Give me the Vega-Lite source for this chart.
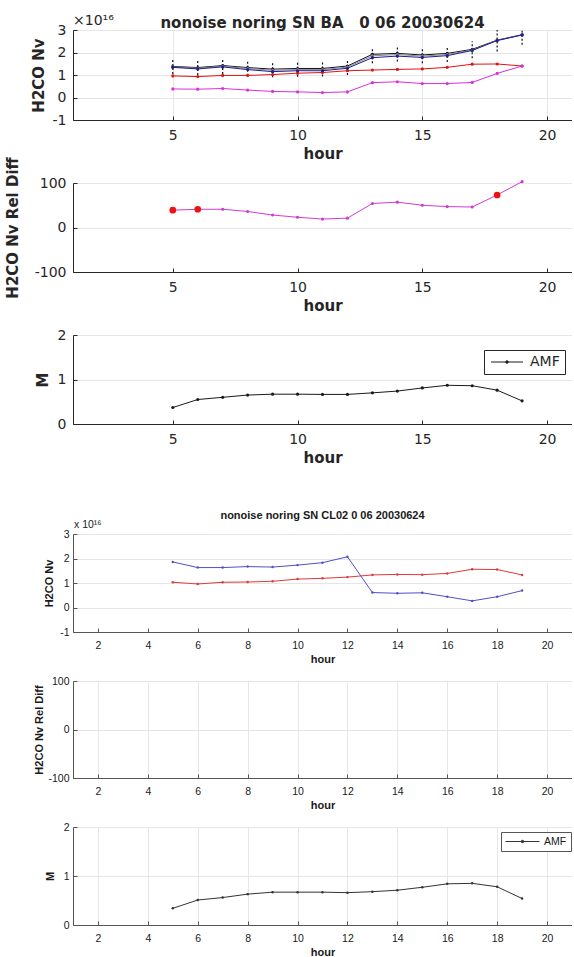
{
"$schema": "https://vega.github.io/schema/vega-lite/v6.json",
"usermeta": {"embedOptions": {"actions": false}},
"background": "white",
"padding": {"left": 5, "top": 14, "right": 0, "bottom": 0},
"bounds": "flush",
"spacing": 49,
"resolve": {"scale": {"color": "independent", "strokeWidth": "independent"}, "legend": {"color": "independent"}},
"config": {"view": {"stroke": null}, "axis": {"domainColor": "#262626", "labelColor": "#262626", "titleColor": "#262626", "gridColor": "#e6e6e6", "ticks": true, "tickSize": -4, "tickColor": "#262626"}},
"datasets": {
"p1": [
{"hour":5,"series":"upper","v":1.38},{"hour":6,"series":"upper","v":1.33},{"hour":7,"series":"upper","v":1.42},{"hour":8,"series":"upper","v":1.33},{"hour":9,"series":"upper","v":1.26},{"hour":10,"series":"upper","v":1.29},{"hour":11,"series":"upper","v":1.29},{"hour":12,"series":"upper","v":1.40},{"hour":13,"series":"upper","v":1.92},{"hour":14,"series":"upper","v":1.96},{"hour":15,"series":"upper","v":1.89},{"hour":16,"series":"upper","v":1.96},{"hour":17,"series":"upper","v":2.14},{"hour":18,"series":"upper","v":2.55},{"hour":19,"series":"upper","v":2.79},
{"hour":5,"series":"mid","v":1.36},{"hour":6,"series":"mid","v":1.30},{"hour":7,"series":"mid","v":1.39},{"hour":8,"series":"mid","v":1.29},{"hour":9,"series":"mid","v":1.21},{"hour":10,"series":"mid","v":1.24},{"hour":11,"series":"mid","v":1.24},{"hour":12,"series":"mid","v":1.35},{"hour":13,"series":"mid","v":1.85},{"hour":14,"series":"mid","v":1.91},{"hour":15,"series":"mid","v":1.84},{"hour":16,"series":"mid","v":1.91},{"hour":17,"series":"mid","v":2.11},{"hour":18,"series":"mid","v":2.54},{"hour":19,"series":"mid","v":2.78},
{"hour":5,"series":"reference","v":0.96},{"hour":6,"series":"reference","v":0.93},{"hour":7,"series":"reference","v":0.98},{"hour":8,"series":"reference","v":0.98},{"hour":9,"series":"reference","v":1.02},{"hour":10,"series":"reference","v":1.08},{"hour":11,"series":"reference","v":1.11},{"hour":12,"series":"reference","v":1.19},{"hour":13,"series":"reference","v":1.22},{"hour":14,"series":"reference","v":1.25},{"hour":15,"series":"reference","v":1.27},{"hour":16,"series":"reference","v":1.34},{"hour":17,"series":"reference","v":1.48},{"hour":18,"series":"reference","v":1.49},{"hour":19,"series":"reference","v":1.40},
{"hour":5,"series":"difference","v":0.38},{"hour":6,"series":"difference","v":0.37},{"hour":7,"series":"difference","v":0.40},{"hour":8,"series":"difference","v":0.33},{"hour":9,"series":"difference","v":0.27},{"hour":10,"series":"difference","v":0.25},{"hour":11,"series":"difference","v":0.22},{"hour":12,"series":"difference","v":0.25},{"hour":13,"series":"difference","v":0.66},{"hour":14,"series":"difference","v":0.70},{"hour":15,"series":"difference","v":0.62},{"hour":16,"series":"difference","v":0.62},{"hour":17,"series":"difference","v":0.67},{"hour":18,"series":"difference","v":1.07},{"hour":19,"series":"difference","v":1.40},
{"hour":5,"series":"retrieved","v":1.34},{"hour":6,"series":"retrieved","v":1.27},{"hour":7,"series":"retrieved","v":1.36},{"hour":8,"series":"retrieved","v":1.24},{"hour":9,"series":"retrieved","v":1.15},{"hour":10,"series":"retrieved","v":1.19},{"hour":11,"series":"retrieved","v":1.19},{"hour":12,"series":"retrieved","v":1.30},{"hour":13,"series":"retrieved","v":1.77},{"hour":14,"series":"retrieved","v":1.84},{"hour":15,"series":"retrieved","v":1.78},{"hour":16,"series":"retrieved","v":1.86},{"hour":17,"series":"retrieved","v":2.09},{"hour":18,"series":"retrieved","v":2.53},{"hour":19,"series":"retrieved","v":2.78}
],
"p1err": [
{"hour":5,"v":1.05,"hi":1.72},{"hour":6,"v":1.00,"hi":1.65},{"hour":7,"v":1.05,"hi":1.72},{"hour":8,"v":0.97,"hi":1.63},{"hour":9,"v":0.90,"hi":1.55},{"hour":10,"v":0.92,"hi":1.58},{"hour":11,"v":0.93,"hi":1.58},{"hour":12,"v":1.00,"hi":1.68},{"hour":13,"v":1.52,"hi":2.22},{"hour":14,"v":1.60,"hi":2.28},{"hour":15,"v":1.52,"hi":2.20},{"hour":16,"v":1.58,"hi":2.25},{"hour":17,"v":1.75,"hi":2.50},{"hour":18,"v":2.05,"hi":3.00},{"hour":19,"v":2.35,"hi":3.00}
],
"p2": [
{"hour":5,"v":39,"flag":true},{"hour":6,"v":41,"flag":true},{"hour":7,"v":41,"flag":false},{"hour":8,"v":36,"flag":false},{"hour":9,"v":28,"flag":false},{"hour":10,"v":23,"flag":false},{"hour":11,"v":19,"flag":false},{"hour":12,"v":21,"flag":false},{"hour":13,"v":54,"flag":false},{"hour":14,"v":57,"flag":false},{"hour":15,"v":50,"flag":false},{"hour":16,"v":47,"flag":false},{"hour":17,"v":46,"flag":false},{"hour":18,"v":73,"flag":true},{"hour":19,"v":103,"flag":false}
],
"p3": [
{"hour":5,"series":"AMF","v":0.37},{"hour":6,"series":"AMF","v":0.55},{"hour":7,"series":"AMF","v":0.60},{"hour":8,"series":"AMF","v":0.65},{"hour":9,"series":"AMF","v":0.67},{"hour":10,"series":"AMF","v":0.67},{"hour":11,"series":"AMF","v":0.665},{"hour":12,"series":"AMF","v":0.665},{"hour":13,"series":"AMF","v":0.70},{"hour":14,"series":"AMF","v":0.74},{"hour":15,"series":"AMF","v":0.81},{"hour":16,"series":"AMF","v":0.87},{"hour":17,"series":"AMF","v":0.86},{"hour":18,"series":"AMF","v":0.76},{"hour":19,"series":"AMF","v":0.52}
],
"p4": [
{"hour":5,"series":"retrieved","v":1.86},{"hour":6,"series":"retrieved","v":1.63},{"hour":7,"series":"retrieved","v":1.63},{"hour":8,"series":"retrieved","v":1.67},{"hour":9,"series":"retrieved","v":1.65},{"hour":10,"series":"retrieved","v":1.73},{"hour":11,"series":"retrieved","v":1.83},{"hour":12,"series":"retrieved","v":2.07},{"hour":13,"series":"retrieved","v":0.61},{"hour":14,"series":"retrieved","v":0.58},{"hour":15,"series":"retrieved","v":0.60},{"hour":16,"series":"retrieved","v":0.44},{"hour":17,"series":"retrieved","v":0.27},{"hour":18,"series":"retrieved","v":0.44},{"hour":19,"series":"retrieved","v":0.69},
{"hour":5,"series":"reference","v":1.03},{"hour":6,"series":"reference","v":0.96},{"hour":7,"series":"reference","v":1.03},{"hour":8,"series":"reference","v":1.04},{"hour":9,"series":"reference","v":1.07},{"hour":10,"series":"reference","v":1.16},{"hour":11,"series":"reference","v":1.19},{"hour":12,"series":"reference","v":1.24},{"hour":13,"series":"reference","v":1.33},{"hour":14,"series":"reference","v":1.35},{"hour":15,"series":"reference","v":1.34},{"hour":16,"series":"reference","v":1.39},{"hour":17,"series":"reference","v":1.56},{"hour":18,"series":"reference","v":1.55},{"hour":19,"series":"reference","v":1.33}
],
"p5": [],
"p6": [
{"hour":5,"series":"AMF","v":0.34},{"hour":6,"series":"AMF","v":0.51},{"hour":7,"series":"AMF","v":0.56},{"hour":8,"series":"AMF","v":0.63},{"hour":9,"series":"AMF","v":0.67},{"hour":10,"series":"AMF","v":0.67},{"hour":11,"series":"AMF","v":0.67},{"hour":12,"series":"AMF","v":0.66},{"hour":13,"series":"AMF","v":0.68},{"hour":14,"series":"AMF","v":0.71},{"hour":15,"series":"AMF","v":0.77},{"hour":16,"series":"AMF","v":0.84},{"hour":17,"series":"AMF","v":0.85},{"hour":18,"series":"AMF","v":0.78},{"hour":19,"series":"AMF","v":0.54}
],
"gridTop": [{"hour":5},{"hour":10},{"hour":15},{"hour":20}],
"gridBottom": [{"hour":2},{"hour":4},{"hour":6},{"hour":8},{"hour":10},{"hour":12},{"hour":14},{"hour":16},{"hour":18},{"hour":20}]
},
"vconcat": [
{
"width": 499, "height": 90,
"title": {"text": "nonoise noring SN BA\u00a0\u00a0\u00a00 06 20030624", "font": "DejaVu Sans", "fontSize": 15, "fontWeight": "bold", "color": "#262626", "anchor": "middle", "baseline": "alphabetic", "offset": -29, "frame": "group"},
"encoding": {"x": {"field": "hour", "type": "quantitative", "scale": {"domain": [1, 21], "nice": false, "zero": false},
   "axis": {"values": [5, 10, 15, 20], "title": "hour", "labelFont": "DejaVu Sans", "labelFontSize": 14, "titleFont": "DejaVu Sans", "titleFontSize": 15, "titleFontWeight": "bold", "labelPadding": 12, "titlePadding": 4}},
  "y": {"field": "v", "type": "quantitative", "scale": {"domain": [-1, 3], "nice": false, "zero": false},
   "axis": {"values": [-1, 0, 1, 2, 3], "title": "H2CO Nv", "labelExpr": "''+datum.value", "labelFont": "DejaVu Sans", "labelFontSize": 14, "titleFont": "DejaVu Sans", "titleFontSize": 15, "titleFontWeight": "bold", "labelPadding": 11, "minExtent": 27, "maxExtent": 27, "titlePadding": 0}}},
"layer": [
{"data": {"name": "p1err"}, "mark": {"type": "rule", "strokeDash": [2, 2], "color": "#111111", "strokeWidth": 1.2},
 "encoding": {"y2": {"field": "hi"}}},
{"data": {"name": "p1"}, "mark": {"type": "line", "point": {"filled": true, "size": 10}},
 "encoding": {
  "color": {"field": "series", "type": "nominal", "scale": {"domain": ["upper", "mid", "reference", "difference", "retrieved"], "range": ["#111111", "#8a8a8a", "#e01414", "#dd2edd", "#1c1c96"]}, "legend": null},
  "strokeWidth": {"field": "series", "type": "nominal", "scale": {"domain": ["upper", "mid", "reference", "difference", "retrieved"], "range": [1, 1, 1, 1, 2]}, "legend": null}}},
{"data": {"values": [{"hour": 1, "v": 3}]}, "mark": {"type": "text", "text": "×10¹⁶", "align": "left", "baseline": "alphabetic", "dy": -5, "font": "DejaVu Sans", "fontSize": 14, "color": "#262626"}}
]
},
{
"width": 499, "height": 103,
"data": {"name": "p2"},
"encoding": {"x": {"field": "hour", "type": "quantitative", "scale": {"domain": [1, 21], "nice": false, "zero": false},
   "axis": {"values": [5, 10, 15, 20], "grid": false, "title": "hour", "labelFont": "DejaVu Sans", "labelFontSize": 14, "titleFont": "DejaVu Sans", "titleFontSize": 15, "titleFontWeight": "bold", "labelPadding": 12, "titlePadding": 4}},
  "y": {"field": "v", "type": "quantitative", "scale": {"domain": [-100, 100], "range": [103, 14], "nice": false, "zero": false},
   "axis": {"values": [-100, 0, 100], "title": "H2CO Nv Rel Diff", "labelExpr": "''+datum.value", "labelFont": "DejaVu Sans", "labelFontSize": 14, "titleFont": "DejaVu Sans", "titleFontSize": 15, "titleFontWeight": "bold", "labelPadding": 11, "minExtent": 53, "maxExtent": 53, "titlePadding": 0}}},
"layer": [
{"data": {"name": "gridTop"}, "mark": {"type": "rule", "color": "#e6e6e6", "strokeWidth": 1}, "encoding": {"y": {"datum": -100}, "y2": {"datum": 100}}},
{"mark": {"type": "line", "color": "#d23ad2", "strokeWidth": 1, "point": {"filled": true, "size": 10, "color": "#d23ad2"}}},
{"transform": [{"filter": "datum.flag"}], "mark": {"type": "point", "filled": true, "size": 45, "color": "#ee1111", "opacity": 1}}
]
},
{
"width": 499, "height": 103,
"encoding": {"x": {"field": "hour", "type": "quantitative", "scale": {"domain": [1, 21], "nice": false, "zero": false},
   "axis": {"values": [5, 10, 15, 20], "grid": false, "title": "hour", "labelFont": "DejaVu Sans", "labelFontSize": 14, "titleFont": "DejaVu Sans", "titleFontSize": 15, "titleFontWeight": "bold", "labelPadding": 12, "titlePadding": 4}},
  "y": {"field": "v", "type": "quantitative", "scale": {"domain": [0, 2], "range": [103, 14], "nice": false, "zero": false},
   "axis": {"values": [0, 1, 2], "title": "M", "labelExpr": "''+datum.value", "labelFont": "DejaVu Sans", "labelFontSize": 14, "titleFont": "DejaVu Sans", "titleFontSize": 15, "titleFontWeight": "bold", "labelPadding": 11, "minExtent": 23, "maxExtent": 23, "titlePadding": 0}}},
"layer": [
{"data": {"name": "gridTop"}, "mark": {"type": "rule", "color": "#e6e6e6", "strokeWidth": 1}, "encoding": {"y": {"datum": 0}, "y2": {"datum": 2}}},
{"data": {"name": "p3"}, "mark": {"type": "line", "strokeWidth": 1, "point": {"filled": true, "size": 10}},
 "encoding": {"color": {"field": "series", "type": "nominal", "scale": {"domain": ["AMF"], "range": ["#1a1a1a"]},
   "legend": {"orient": "none", "legendX": 411, "legendY": 29, "title": null, "symbolType": "M-1,0L5.4,0M1.95,0A0.25,0.25,0,1,1,2.45,0A0.25,0.25,0,1,1,1.95,0Z", "symbolSize": 100, "symbolStrokeWidth": 1, "symbolFillColor": "#1a1a1a", "symbolStrokeColor": "#1a1a1a", "labelFont": "DejaVu Sans", "labelFontSize": 14, "labelColor": "#262626", "labelOffset": 27, "padding": 5, "strokeColor": "#262626", "fillColor": "white", "cornerRadius": 0}}}}
]
},
{
"width": 499, "height": 159,
"title": {"text": "nonoise noring SN CL02 0 06 20030624", "font": "Liberation Sans", "fontSize": 11, "fontWeight": "bold", "color": "#1a1a1a", "anchor": "middle", "baseline": "alphabetic", "offset": -57, "frame": "group"},
"encoding": {"x": {"field": "hour", "type": "quantitative", "scale": {"domain": [1, 21], "nice": false, "zero": false},
   "axis": {"values": [2, 4, 6, 8, 10, 12, 14, 16, 18, 20], "grid": false, "title": "hour", "labelFont": "Liberation Sans", "labelFontSize": 10.5, "titleFont": "Liberation Sans", "titleFontSize": 11, "titleFontWeight": "bold", "labelPadding": 12, "titlePadding": 3, "labelColor": "#1a1a1a", "titleColor": "#1a1a1a", "domainColor": "#555555", "tickColor": "#555555"}},
  "y": {"field": "v", "type": "quantitative", "scale": {"domain": [-1, 3], "range": [159, 61], "nice": false, "zero": false},
   "axis": {"values": [-1, 0, 1, 2, 3], "title": "H2CO Nv", "labelExpr": "''+datum.value", "labelFont": "Liberation Sans", "labelFontSize": 10.5, "titleFont": "Liberation Sans", "titleFontSize": 11, "titleFontWeight": "bold", "labelPadding": 8, "minExtent": 19, "maxExtent": 19, "titlePadding": 0, "labelColor": "#1a1a1a", "titleColor": "#1a1a1a", "domainColor": "#555555", "tickColor": "#555555"}}},
"layer": [
{"data": {"name": "gridBottom"}, "mark": {"type": "rule", "color": "#e6e6e6", "strokeWidth": 1}, "encoding": {"y": {"datum": -1}, "y2": {"datum": 3}}},
{"data": {"name": "p4"}, "mark": {"type": "line", "strokeWidth": 1, "point": {"filled": true, "size": 6}},
 "encoding": {"color": {"field": "series", "type": "nominal", "scale": {"domain": ["retrieved", "reference"], "range": ["#5050c8", "#dd3a3a"]}, "legend": null}}},
{"data": {"values": [{"hour": 1, "v": 3}]}, "mark": {"type": "text", "text": "x 10¹⁶", "align": "left", "baseline": "alphabetic", "dy": -6, "dx": 1, "font": "Liberation Sans", "fontSize": 10.5, "color": "#1a1a1a"}}
]
},
{
"width": 499, "height": 97,
"data": {"name": "p5"},
"mark": {"type": "line"},
"encoding": {"x": {"field": "hour", "type": "quantitative", "scale": {"domain": [1, 21], "nice": false, "zero": false},
   "axis": {"values": [2, 4, 6, 8, 10, 12, 14, 16, 18, 20], "title": "hour", "labelFont": "Liberation Sans", "labelFontSize": 10.5, "titleFont": "Liberation Sans", "titleFontSize": 11, "titleFontWeight": "bold", "labelPadding": 12, "titlePadding": 3, "labelColor": "#1a1a1a", "titleColor": "#1a1a1a", "domainColor": "#555555", "tickColor": "#555555"}},
  "y": {"field": "v", "type": "quantitative", "scale": {"domain": [-100, 100], "nice": false, "zero": false},
   "axis": {"values": [-100, 0, 100], "title": "H2CO Nv Rel Diff", "labelExpr": "''+datum.value", "labelFont": "Liberation Sans", "labelFontSize": 10.5, "titleFont": "Liberation Sans", "titleFontSize": 11, "titleFontWeight": "bold", "labelPadding": 8, "minExtent": 29, "maxExtent": 29, "titlePadding": 0, "labelColor": "#1a1a1a", "titleColor": "#1a1a1a", "domainColor": "#555555", "tickColor": "#555555"}}}
},
{
"width": 499, "height": 98,
"data": {"name": "p6"},
"mark": {"type": "line", "strokeWidth": 1, "point": {"filled": true, "size": 6}},
"encoding": {"x": {"field": "hour", "type": "quantitative", "scale": {"domain": [1, 21], "nice": false, "zero": false},
   "axis": {"values": [2, 4, 6, 8, 10, 12, 14, 16, 18, 20], "title": "hour", "labelFont": "Liberation Sans", "labelFontSize": 10.5, "titleFont": "Liberation Sans", "titleFontSize": 11, "titleFontWeight": "bold", "labelPadding": 12, "titlePadding": 3, "labelColor": "#1a1a1a", "titleColor": "#1a1a1a", "domainColor": "#555555", "tickColor": "#555555"}},
  "y": {"field": "v", "type": "quantitative", "scale": {"domain": [0, 2], "nice": false, "zero": false},
   "axis": {"values": [0, 1, 2], "title": "M", "labelExpr": "''+datum.value", "labelFont": "Liberation Sans", "labelFontSize": 10.5, "titleFont": "Liberation Sans", "titleFontSize": 11, "titleFontWeight": "bold", "labelPadding": 8, "minExtent": 18, "maxExtent": 18, "titlePadding": 0, "labelColor": "#1a1a1a", "titleColor": "#1a1a1a", "domainColor": "#555555", "tickColor": "#555555"}},
  "color": {"field": "series", "type": "nominal", "scale": {"domain": ["AMF"], "range": ["#333333"]},
   "legend": {"orient": "none", "legendX": 428, "legendY": 5, "title": null, "symbolType": "M-1,0L5.8,0M2.15,0A0.25,0.25,0,1,1,2.65,0A0.25,0.25,0,1,1,2.15,0Z", "symbolSize": 100, "symbolStrokeWidth": 1, "symbolFillColor": "#333333", "symbolStrokeColor": "#333333", "labelFont": "Liberation Sans", "labelFontSize": 10.5, "labelColor": "#1a1a1a", "labelOffset": 28, "padding": 4, "strokeColor": "#555555", "fillColor": "white", "cornerRadius": 0}}}
}
]
}
